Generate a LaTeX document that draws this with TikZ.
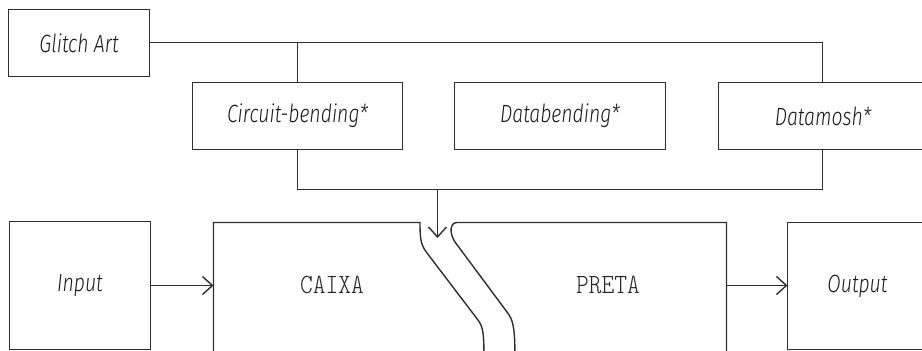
\documentclass[tikz,border=0pt]{standalone}
\usepackage{fontspec}
\usetikzlibrary{arrows.meta}
\newfontfamily\labelfont{Fira Sans Light}[FakeStretch=0.78]
\newfontfamily\blockfont{lmmonolt10-regular.otf}[FakeStretch=0.87]
\tikzset{
  ink/.style={draw=black!82, line width=1.4bp},
  box/.style={ink, rectangle, inner sep=0pt, outer sep=0pt, anchor=north west},
  lbl/.style={font=\labelfont\itshape\fontsize{25}{27}\selectfont, text=black!90},
  blk/.style={font=\blockfont\fontsize{28}{30}\selectfont, text=black!85},
  arr/.style={ink, -{Straight Barb[length=10bp,width=18bp,line width=1.4bp]}}
}
\begin{document}
\begin{tikzpicture}[x=1bp, y=-1bp]
  \useasboundingbox (0,0) rectangle (922,350);
  \clip (0,0) rectangle (922,350);

  % top row of labelled boxes
  \node[box, minimum width=141bp, minimum height=67bp] (glitch) at (8.5,9.5) {};
  \node[lbl] at (glitch.center) {Glitch Art};
  \node[box, minimum width=210bp, minimum height=67bp] (circ) at (192.5,82.5) {};
  \node[lbl] at (circ.center) {Circuit-bending*};
  \node[box, minimum width=211bp, minimum height=67bp] (datab) at (454.5,82.5) {};
  \node[lbl] at (datab.center) {Databending*};
  \node[box, minimum width=209bp, minimum height=67bp] (datam) at (718.5,82.5) {};
  \node[lbl] at (datam.center) {Datamosh*};

  % input and output
  \node[box, minimum width=141bp, minimum height=128bp] (input) at (9.5,221.5) {};
  \node[lbl] at (input.center) {Input};
  \node[box, minimum width=140bp, minimum height=127bp] (output) at (787.5,222.5) {};
  \node[lbl] at (output.center) {Output};

  % black box split by a curved slot
  \draw[ink] (213.5,360) -- (213.5,222.5) -- (420,222.5)
    .. controls (420,240) and (421,245) .. (427,253) -- (478,320)
    .. controls (483,327) and (484,332) .. (484,360);
  \draw[ink] (726.5,360) -- (726.5,222.5) -- (457,222.5)
    .. controls (450,222.5) and (449,233) .. (455,242) -- (507,312)
    .. controls (513,320) and (515,326) .. (515,360);
  \node[blk] (caixa) at (332,285) {CAIXA};
  \node[blk] (preta) at (608,285) {PRETA};
  \coordinate (caixaW) at (213.5,285.5);
  \coordinate (pretaE) at (726.5,285.5);
  \coordinate (slot) at (437.5,238);

  % connectors
  \coordinate (topR) at (822.5,42.5);
  \coordinate (botL) at (297.5,189.5);
  \coordinate (botR) at (822.5,189.5);
  \coordinate (botM) at (437.5,189.5);
  \draw[ink] (glitch.east |- 0,42.5) -- (topR) -- (topR |- datam.north);
  \draw[ink] (circ.north -| botL) -- (botL |- topR);
  \draw[ink] (circ.south -| botL) -- (botL) -- (botR) -- (botR |- datam.south);
  \draw[arr] (botM) -- (slot);
  \draw[arr] (input.east |- caixaW) -- (caixaW);
  \draw[arr] (pretaE) -- (output.west |- pretaE);
\end{tikzpicture}
\end{document}
